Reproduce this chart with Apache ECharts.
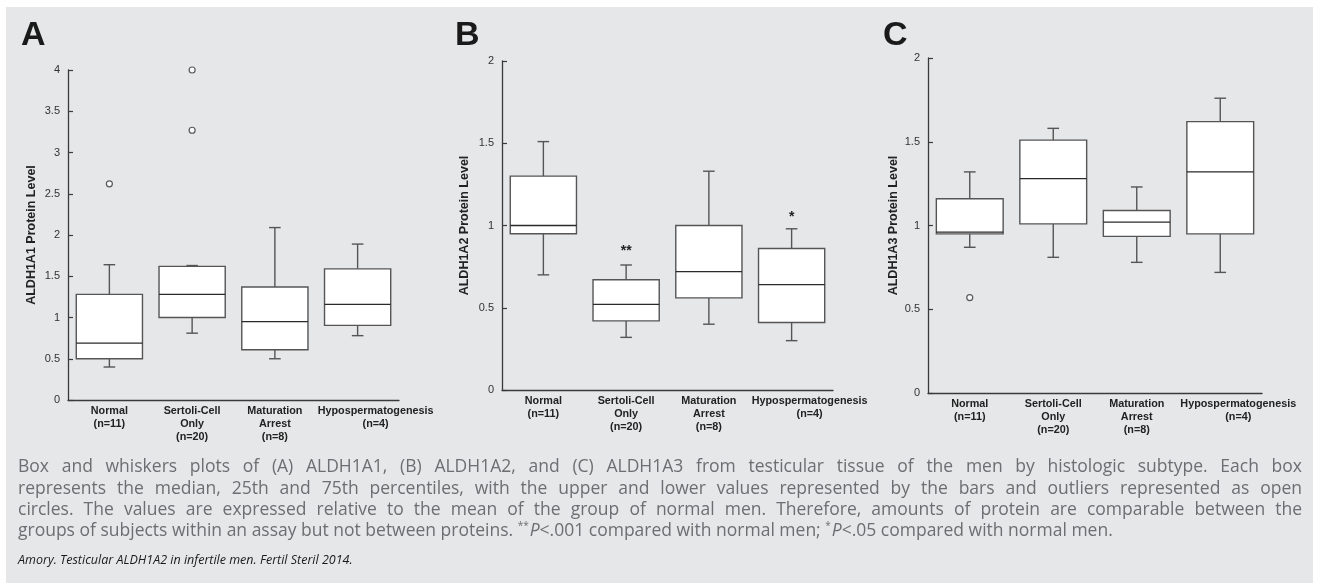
<!DOCTYPE html>
<html>
<head>
<meta charset="utf-8">
<script src="https://cdn.jsdelivr.net/npm/echarts@6/dist/echarts.min.js"></script>
<style>
  html, body { margin: 0; padding: 0; background: #ffffff; }
  #bg { position: absolute; left: 6px; top: 7px; width: 1307px; height: 576px; background: #e6e7e8; }
  #chart { position: absolute; left: 0; top: 0; width: 1319px; height: 583px; }
</style>
</head>
<body>
<div id="bg"></div>
<div id="chart"></div>
<script>
// ---------- DATA ----------
const categories = ['Normal\n(n=11)', 'Sertoli-Cell\nOnly\n(n=20)', 'Maturation\nArrest\n(n=8)', 'Hypospermatogenesis\n(n=4)'];
const panelLetters = ['A', 'B', 'C'];
const yTitles = ['ALDH1A1 Protein Level', 'ALDH1A2 Protein Level', 'ALDH1A3 Protein Level'];
const yMax = [4, 2, 2];
const yInterval = [0.5, 0.5, 0.5];

// [min, Q1, median, Q3, max] per category
const boxA = [
  [0.40, 0.50, 0.69, 1.28, 1.64],
  [0.81, 1.00, 1.28, 1.62, 1.63],
  [0.50, 0.61, 0.95, 1.37, 2.09],
  [0.78, 0.905, 1.16, 1.59, 1.89]
];
const boxB = [
  [0.70, 0.95, 1.00, 1.30, 1.51],
  [0.32, 0.42, 0.52, 0.67, 0.76],
  [0.40, 0.56, 0.72, 1.00, 1.33],
  [0.30, 0.41, 0.64, 0.86, 0.98]
];
const boxC = [
  [0.87, 0.95, 0.96, 1.16, 1.32],
  [0.81, 1.01, 1.28, 1.51, 1.58],
  [0.78, 0.935, 1.02, 1.09, 1.23],
  [0.72, 0.95, 1.32, 1.62, 1.76]
];
// outliers: [categoryIndex, value]
const outliersA = [[0, 2.62], [1, 4.00], [1, 3.27]];
const outliersB = [];
const outliersC = [[0, 0.57]];
// significance marks: [categoryIndex, value, text]
const marksA = [];
const marksB = [[1, 0.86, '**'], [3, 1.07, '*']];
const marksC = [];

const captionLines = [
  'Box and whiskers plots of (A) ALDH1A1, (B) ALDH1A2, and (C) ALDH1A3 from testicular tissue of the men by histologic subtype. Each box',
  'represents the median, 25th and 75th percentiles, with the upper and lower values represented by the bars and outliers represented as open',
  'circles. The values are expressed relative to the mean of the group of normal men. Therefore, amounts of protein are comparable between the'
];
const captionLast = 'groups of subjects within an assay but not between proteins. {sup|**}{it|P}<.001 compared with normal men; {sup|*}{it|P}<.05 compared with normal men.';
const citation = 'Amory. Testicular ALDH1A2 in infertile men. Fertil Steril 2014.';

// ---------- LAYOUT / STYLE ----------
const grids = [
  { left: 68, top: 70, width: 331, height: 330 },
  { left: 502, top: 61, width: 331, height: 329 },
  { left: 928, top: 58, width: 334, height: 335 }
];
const nameGaps = [30, 31, 28];
const letterPos = [[21, 45], [455, 45], [883, 45]];
const boxes = [boxA, boxB, boxC];
const outliers = [outliersA, outliersB, outliersC];
const marks = [marksA, marksB, marksC];

const axisColor = '#3a3a3a';
const boxStroke = '#555555';
const medianStroke = '#2a2a2a';
const sansFont = '"Liberation Sans", Arial, sans-serif';

function renderBox(params, api) {
  const x = api.value(0);
  const lo = api.value(1), q1 = api.value(2), med = api.value(3), q3 = api.value(4), hi = api.value(5);
  const cx = api.coord([x, med])[0];
  const band = api.size([1, 0])[0];
  const bw = band * 0.8;
  const cap = band * 0.14;
  const yLo = api.coord([x, lo])[1];
  const yQ1 = api.coord([x, q1])[1];
  const yMed = api.coord([x, med])[1];
  const yQ3 = api.coord([x, q3])[1];
  const yHi = api.coord([x, hi])[1];
  const ls = { stroke: boxStroke, lineWidth: 1.4 };
  return {
    type: 'group',
    children: [
      { type: 'line', shape: { x1: cx, y1: yQ3, x2: cx, y2: yHi }, style: ls },
      { type: 'line', shape: { x1: cx - cap / 2, y1: yHi, x2: cx + cap / 2, y2: yHi }, style: ls },
      { type: 'line', shape: { x1: cx, y1: yQ1, x2: cx, y2: yLo }, style: ls },
      { type: 'line', shape: { x1: cx - cap / 2, y1: yLo, x2: cx + cap / 2, y2: yLo }, style: ls },
      { type: 'rect', shape: { x: cx - bw / 2, y: yQ3, width: bw, height: yQ1 - yQ3 },
        style: { fill: '#ffffff', stroke: boxStroke, lineWidth: 1.4 } },
      { type: 'line', shape: { x1: cx - bw / 2, y1: yMed, x2: cx + bw / 2, y2: yMed },
        style: { stroke: medianStroke, lineWidth: 1.3 } }
    ]
  };
}

const xAxisData = categories.map((c, i) => i === 3
  ? { value: c, textStyle: { padding: [0, 0, 0, 36] } }
  : c);

const option = {
  animation: false,
  backgroundColor: 'transparent',
  grid: grids.map(g => Object.assign({ containLabel: false }, g)),
  xAxis: grids.map((g, i) => ({
    type: 'category',
    gridIndex: i,
    data: xAxisData,
    boundaryGap: true,
    axisLine: { show: true, lineStyle: { color: axisColor, width: 1.3 } },
    axisTick: { show: false },
    splitLine: { show: false },
    axisLabel: {
      interval: 0,
      margin: 4,
      fontFamily: sansFont,
      fontWeight: 'bold',
      fontSize: 10.8,
      lineHeight: 13.4,
      color: '#222222'
    }
  })),
  yAxis: grids.map((g, i) => ({
    type: 'value',
    gridIndex: i,
    min: 0,
    max: yMax[i],
    interval: yInterval[i],
    name: yTitles[i],
    nameLocation: 'middle',
    nameGap: nameGaps[i],
    nameTextStyle: { fontFamily: sansFont, fontWeight: 'bold', fontSize: 12.5, color: '#222222' },
    axisLine: { show: true, lineStyle: { color: axisColor, width: 1.3 } },
    axisTick: { show: true, inside: true, length: 5, lineStyle: { color: axisColor, width: 1.2 } },
    splitLine: { show: false },
    axisLabel: { margin: 8, fontFamily: sansFont, fontSize: 11, color: '#333333' }
  })),
  series: []
};

for (let i = 0; i < 3; i++) {
  option.series.push({
    type: 'custom',
    xAxisIndex: i,
    yAxisIndex: i,
    renderItem: renderBox,
    encode: { x: 0, y: [1, 2, 3, 4, 5] },
    data: boxes[i].map((b, k) => [k].concat(b)),
    z: 2
  });
  if (outliers[i].length) {
    option.series.push({
      type: 'scatter',
      xAxisIndex: i,
      yAxisIndex: i,
      symbol: 'circle',
      symbolSize: 6,
      itemStyle: { color: '#ffffff', borderColor: '#333333', borderWidth: 1.2 },
      data: outliers[i],
      z: 3
    });
  }
  if (marks[i].length) {
    const mk = marks[i];
    option.series.push({
      type: 'custom',
      xAxisIndex: i,
      yAxisIndex: i,
      encode: { x: 0, y: 1 },
      renderItem: function (params, api) {
        const pt = api.coord([api.value(0), api.value(1)]);
        return {
          type: 'text',
          x: pt[0],
          y: pt[1] + 3,
          style: {
            text: mk[params.dataIndex][2],
            align: 'center',
            verticalAlign: 'middle',
            fontFamily: sansFont,
            fontWeight: 'bold',
            fontSize: 14,
            fill: '#222222'
          }
        };
      },
      data: mk.map(m => [m[0], m[1]]),
      z: 3
    });
  }
}

// panel letters
const graphics = [];
panelLetters.forEach((L, i) => {
  graphics.push({
    type: 'text',
    left: letterPos[i][0],
    top: letterPos[i][1] - 26,
    style: { text: L, fontFamily: sansFont, fontWeight: 'bold', fontSize: 34, fill: '#1a1a1a' }
  });
});

// caption (justified lines)
const capSize = 17.5;
const capFont = capSize + 'px "Open Sans"';
const capLeft = 18, capRight = 1302;
const capMid0 = 467.5, capLineGap = 21.2;
const mctx = document.createElement('canvas').getContext('2d');
mctx.font = capFont;
captionLines.forEach((line, li) => {
  const words = line.split(' ');
  const widths = words.map(w => mctx.measureText(w).width);
  const total = widths.reduce((a, b) => a + b, 0);
  const gap = (capRight - capLeft - total) / (words.length - 1);
  let x = capLeft;
  words.forEach((w, wi) => {
    graphics.push({
      type: 'text',
      x: x,
      y: capMid0 + li * capLineGap,
      style: { text: w, fontFamily: '"Open Sans"', fontSize: capSize, fill: '#6d6e71', verticalAlign: 'middle' }
    });
    x += widths[wi] + gap;
  });
});
graphics.push({
  type: 'text',
  x: capLeft,
  y: capMid0 + 3 * capLineGap,
  style: {
    text: captionLast,
    fontFamily: '"Open Sans"',
    fontSize: capSize,
    fill: '#6d6e71',
    verticalAlign: 'middle',
    rich: {
      sup: { fontFamily: '"Open Sans"', fontSize: 10, fill: '#6d6e71', padding: [0, 1, 10, 0] },
      it: { fontFamily: '"Open Sans"', fontStyle: 'italic', fontSize: capSize, fill: '#6d6e71' }
    }
  }
});
graphics.push({
  type: 'text',
  x: capLeft,
  y: 560,
  style: { text: citation, fontFamily: '"Open Sans"', fontStyle: 'italic', fontSize: 12.5, fill: '#1a1a1a', verticalAlign: 'middle' }
});

option.graphic = { elements: graphics };

const chart = echarts.init(document.getElementById('chart'), null, { renderer: 'canvas' });
chart.setOption(option);
</script>
</body>
</html>
